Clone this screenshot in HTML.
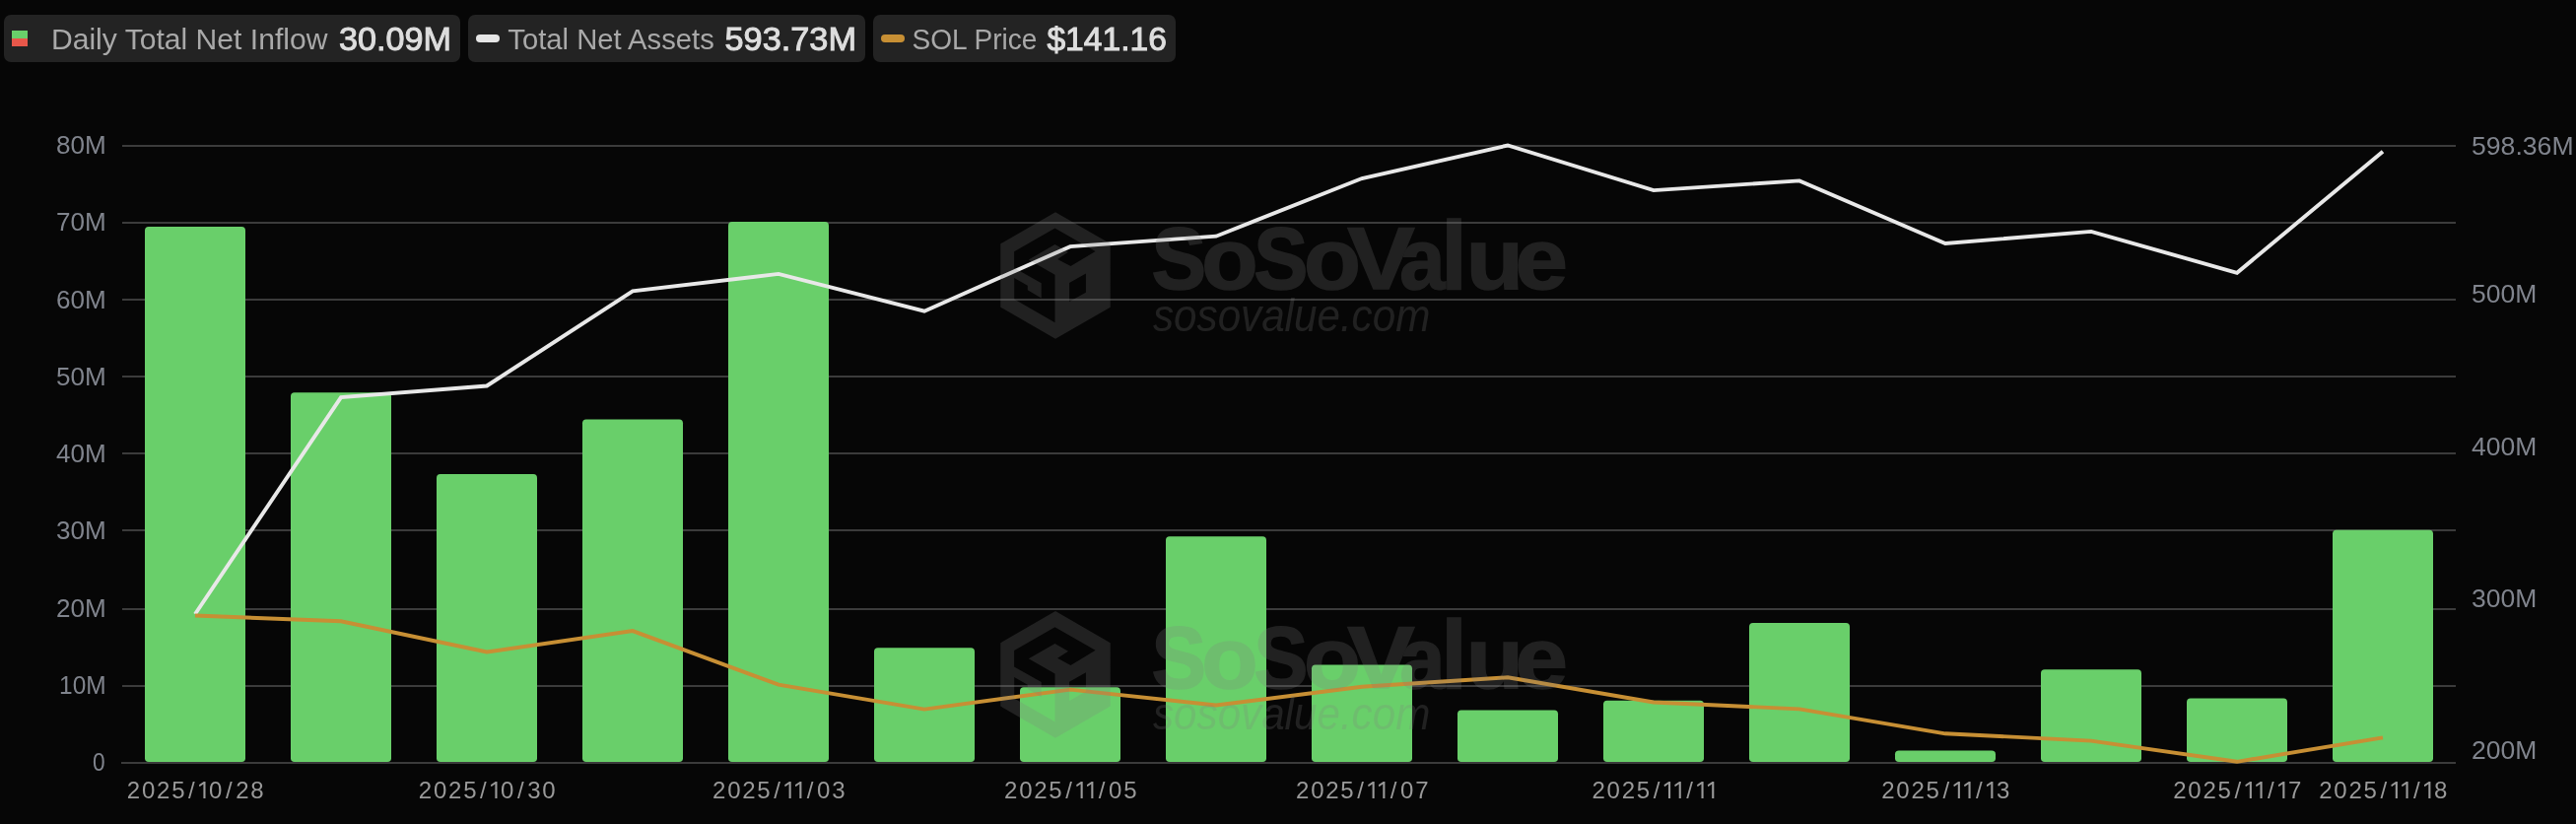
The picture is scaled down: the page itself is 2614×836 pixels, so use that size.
<!DOCTYPE html>
<html><head><meta charset="utf-8"><title>SOL ETF Daily Total Net Inflow</title>
<style>
html,body{margin:0;padding:0;background:#060606;width:2614px;height:836px;overflow:hidden}
svg{display:block;will-change:transform}
text{font-family:"Liberation Sans", sans-serif}
</style></head><body>
<svg width="2614" height="836" viewBox="0 0 2614 836">
<rect x="0" y="0" width="2614" height="836" fill="#060606"/>
<g>
<rect x="4" y="15" width="463" height="48" rx="7" fill="#232323"/>
<rect x="12" y="31" width="16" height="8" fill="#69cf6a"/>
<rect x="12" y="39" width="16" height="8" fill="#e8574a"/>
<text x="51.9" y="50.3" font-size="28.8" fill="#a9a9a9" textLength="280.6" lengthAdjust="spacingAndGlyphs">Daily Total Net Inflow</text>
<text x="344" y="50.9" font-size="34" fill="#dedede" stroke="#dedede" stroke-width="1.0" textLength="114" lengthAdjust="spacingAndGlyphs">30.09M</text>
<rect x="475" y="15" width="403" height="48" rx="7" fill="#232323"/>
<rect x="483" y="35" width="24" height="8" rx="4" fill="#e6e6e6"/>
<text x="515.3" y="50.3" font-size="28.8" fill="#a9a9a9" textLength="209.5" lengthAdjust="spacingAndGlyphs">Total Net Assets</text>
<text x="735.5" y="50.9" font-size="34" fill="#dedede" stroke="#dedede" stroke-width="1.0" textLength="133.5" lengthAdjust="spacingAndGlyphs">593.73M</text>
<rect x="886" y="15" width="307" height="48" rx="7" fill="#232323"/>
<rect x="894" y="35" width="24" height="8" rx="4" fill="#c78f34"/>
<text x="925.6" y="50.3" font-size="28.8" fill="#a9a9a9" textLength="126.8" lengthAdjust="spacingAndGlyphs">SOL Price</text>
<text x="1062.4" y="50.9" font-size="34" fill="#dedede" stroke="#dedede" stroke-width="1.0" textLength="121.5" lengthAdjust="spacingAndGlyphs">$141.16</text>
</g>
<g>
<rect x="124" y="147.00" width="2368" height="2" fill="#3b3b3b"/>
<rect x="124" y="225.00" width="2368" height="2" fill="#3b3b3b"/>
<rect x="124" y="303.00" width="2368" height="2" fill="#3b3b3b"/>
<rect x="124" y="381.00" width="2368" height="2" fill="#3b3b3b"/>
<rect x="124" y="459.00" width="2368" height="2" fill="#3b3b3b"/>
<rect x="124" y="537.00" width="2368" height="2" fill="#3b3b3b"/>
<rect x="124" y="617.00" width="2368" height="2" fill="#3b3b3b"/>
<rect x="124" y="695.00" width="2368" height="2" fill="#3b3b3b"/>
<rect x="123" y="773.00" width="2369" height="2" fill="#3b3b3b"/>
</g>
<g font-size="25" fill="#80848d" text-anchor="end">
<text x="107.6" y="156.10" textLength="50.7" lengthAdjust="spacingAndGlyphs">80M</text>
<text x="107.6" y="234.35" textLength="50.7" lengthAdjust="spacingAndGlyphs">70M</text>
<text x="107.6" y="312.60" textLength="50.7" lengthAdjust="spacingAndGlyphs">60M</text>
<text x="107.6" y="390.85" textLength="50.7" lengthAdjust="spacingAndGlyphs">50M</text>
<text x="107.6" y="469.10" textLength="50.7" lengthAdjust="spacingAndGlyphs">40M</text>
<text x="107.6" y="547.35" textLength="50.7" lengthAdjust="spacingAndGlyphs">30M</text>
<text x="107.6" y="625.60" textLength="50.7" lengthAdjust="spacingAndGlyphs">20M</text>
<text x="107.6" y="703.85" textLength="47.5" lengthAdjust="spacingAndGlyphs">10M</text>
<text x="106.6" y="782.10" textLength="12.6" lengthAdjust="spacingAndGlyphs">0</text>
</g>
<g font-size="25" fill="#80848d">
<text x="2508" y="156.60" textLength="103.6" lengthAdjust="spacingAndGlyphs">598.36M</text>
<text x="2508" y="307.05" textLength="66.3" lengthAdjust="spacingAndGlyphs">500M</text>
<text x="2508" y="462.30" textLength="66.3" lengthAdjust="spacingAndGlyphs">400M</text>
<text x="2508" y="616.40" textLength="66.3" lengthAdjust="spacingAndGlyphs">300M</text>
<text x="2508" y="770.00" textLength="66.3" lengthAdjust="spacingAndGlyphs">200M</text>
</g>
<g fill="#69cf6a">
<rect x="147" y="229.9" width="102" height="543.1" rx="3.8"/>
<rect x="295" y="398.3" width="102" height="374.7" rx="3.8"/>
<rect x="443" y="481.1" width="102" height="291.9" rx="3.8"/>
<rect x="591" y="425.4" width="102" height="347.6" rx="3.8"/>
<rect x="739" y="225.1" width="102" height="547.9" rx="3.8"/>
<rect x="887" y="657.2" width="102" height="115.8" rx="3.8"/>
<rect x="1035" y="697.3" width="102" height="75.7" rx="3.8"/>
<rect x="1183" y="544.3" width="102" height="228.7" rx="3.8"/>
<rect x="1331" y="674.4" width="102" height="98.6" rx="3.8"/>
<rect x="1479" y="720.5" width="102" height="52.5" rx="3.8"/>
<rect x="1627" y="710.8" width="102" height="62.2" rx="3.8"/>
<rect x="1775" y="632.0" width="102" height="141.0" rx="3.8"/>
<rect x="1923" y="761.4" width="102" height="11.6" rx="3.8"/>
<rect x="2071" y="679.2" width="102" height="93.8" rx="3.8"/>
<rect x="2219" y="708.6" width="102" height="64.4" rx="3.8"/>
<rect x="2367" y="537.7" width="102" height="235.3" rx="3.8"/>
</g>
<polyline points="198,623.0 346,403.1 494,391.5 642,295.3 790,277.9 938,315.7 1086,250.1 1234,239.7 1382,181.0 1530,147.5 1678,193.1 1826,183.4 1974,247.0 2122,234.9 2270,276.8 2418,153.8" fill="none" stroke="#e8e8e8" stroke-width="3.9" stroke-linejoin="miter"/>
<polyline points="198,624.5 346,630.3 494,661.5 642,640.1 790,694.7 938,719.6 1086,699.6 1234,715.5 1382,696.8 1530,687.3 1678,712.5 1826,719.4 1974,744.3 2122,751.6 2270,772.8 2418,748.3" fill="none" stroke="#c78f34" stroke-width="3.9" stroke-linejoin="miter"/>
<g font-size="24" fill="#999999">
<text x="135.55 150.65 165.75 180.85 194.45 218.75 232.35 245.95 261.05" y="810" text-anchor="middle">2025/0/28</text>
<text x="431.55 446.65 461.75 476.85 490.45 514.75 528.35 541.95 557.05" y="810" text-anchor="middle">2025/0/30</text>
<text x="729.75 744.85 759.95 775.05 788.65 822.15 835.75 850.85" y="810" text-anchor="middle">2025//03</text>
<text x="1025.75 1040.85 1055.95 1071.05 1084.65 1118.15 1131.75 1146.85" y="810" text-anchor="middle">2025//05</text>
<text x="1321.75 1336.85 1351.95 1367.05 1380.65 1414.15 1427.75 1442.85" y="810" text-anchor="middle">2025//07</text>
<text x="1622.15 1637.25 1652.35 1667.45 1681.05 1714.55" y="810" text-anchor="middle">2025//</text>
<text x="1915.95 1931.05 1946.15 1961.25 1974.85 2008.35 2032.65" y="810" text-anchor="middle">2025//3</text>
<text x="2211.95 2227.05 2242.15 2257.25 2270.85 2304.35 2328.65" y="810" text-anchor="middle">2025//7</text>
<text x="2359.95 2375.05 2390.15 2405.25 2418.85 2452.35 2476.65" y="810" text-anchor="middle">2025//8</text>
<path d="M208.50,810 L208.50,793 L206.75,793 L201.95,796.3 L202.45,798.2 L206.40,795.6 L206.40,810 Z"/>
<path d="M504.50,810 L504.50,793 L502.75,793 L497.95,796.3 L498.45,798.2 L502.40,795.6 L502.40,810 Z"/>
<path d="M802.70,810 L802.70,793 L800.95,793 L796.15,796.3 L796.65,798.2 L800.60,795.6 L800.60,810 Z"/>
<path d="M813.40,810 L813.40,793 L811.65,793 L806.85,796.3 L807.35,798.2 L811.30,795.6 L811.30,810 Z"/>
<path d="M1098.70,810 L1098.70,793 L1096.95,793 L1092.15,796.3 L1092.65,798.2 L1096.60,795.6 L1096.60,810 Z"/>
<path d="M1109.40,810 L1109.40,793 L1107.65,793 L1102.85,796.3 L1103.35,798.2 L1107.30,795.6 L1107.30,810 Z"/>
<path d="M1394.70,810 L1394.70,793 L1392.95,793 L1388.15,796.3 L1388.65,798.2 L1392.60,795.6 L1392.60,810 Z"/>
<path d="M1405.40,810 L1405.40,793 L1403.65,793 L1398.85,796.3 L1399.35,798.2 L1403.30,795.6 L1403.30,810 Z"/>
<path d="M1695.10,810 L1695.10,793 L1693.35,793 L1688.55,796.3 L1689.05,798.2 L1693.00,795.6 L1693.00,810 Z"/>
<path d="M1705.80,810 L1705.80,793 L1704.05,793 L1699.25,796.3 L1699.75,798.2 L1703.70,795.6 L1703.70,810 Z"/>
<path d="M1728.60,810 L1728.60,793 L1726.85,793 L1722.05,796.3 L1722.55,798.2 L1726.50,795.6 L1726.50,810 Z"/>
<path d="M1739.30,810 L1739.30,793 L1737.55,793 L1732.75,796.3 L1733.25,798.2 L1737.20,795.6 L1737.20,810 Z"/>
<path d="M1988.90,810 L1988.90,793 L1987.15,793 L1982.35,796.3 L1982.85,798.2 L1986.80,795.6 L1986.80,810 Z"/>
<path d="M1999.60,810 L1999.60,793 L1997.85,793 L1993.05,796.3 L1993.55,798.2 L1997.50,795.6 L1997.50,810 Z"/>
<path d="M2022.40,810 L2022.40,793 L2020.65,793 L2015.85,796.3 L2016.35,798.2 L2020.30,795.6 L2020.30,810 Z"/>
<path d="M2284.90,810 L2284.90,793 L2283.15,793 L2278.35,796.3 L2278.85,798.2 L2282.80,795.6 L2282.80,810 Z"/>
<path d="M2295.60,810 L2295.60,793 L2293.85,793 L2289.05,796.3 L2289.55,798.2 L2293.50,795.6 L2293.50,810 Z"/>
<path d="M2318.40,810 L2318.40,793 L2316.65,793 L2311.85,796.3 L2312.35,798.2 L2316.30,795.6 L2316.30,810 Z"/>
<path d="M2432.90,810 L2432.90,793 L2431.15,793 L2426.35,796.3 L2426.85,798.2 L2430.80,795.6 L2430.80,810 Z"/>
<path d="M2443.60,810 L2443.60,793 L2441.85,793 L2437.05,796.3 L2437.55,798.2 L2441.50,795.6 L2441.50,810 Z"/>
<path d="M2466.40,810 L2466.40,793 L2464.65,793 L2459.85,796.3 L2460.35,798.2 L2464.30,795.6 L2464.30,810 Z"/>
</g>
<g fill="#808080" opacity="0.22">
<path transform="translate(1071,279.5)" fill-rule="evenodd" d="M0.00,-64.30 L55.70,-32.15 L55.70,32.15 L0.00,64.30 L-55.70,32.15 L-55.70,-32.15 Z M-0.50,-48.10 L40.60,-24.60 L15.50,-9.50 L2.10,-16.60 L13.00,-23.70 L-0.50,-31.40 L-27.20,-16.10 L-0.50,-0.80 L-0.50,47.80 L-41.80,24.00 L-41.80,2.50 L-28.20,10.30 L-28.20,14.70 L-14.30,22.90 L-14.30,7.70 L-41.90,-7.80 L-41.90,-24.30 Z M14.10,7.40 L30.90,-2.10 L30.90,17.20 L14.10,26.60 Z"/>
<text transform="translate(1168.60,292.90) scale(0.8329,0.8894)" font-size="100" font-weight="bold" stroke="#808080" stroke-width="1.86">S</text>
<text transform="translate(1219.33,292.90) scale(0.9386,0.8772)" font-size="100" font-weight="bold" stroke="#808080" stroke-width="1.76">o</text>
<text transform="translate(1272.22,292.90) scale(0.8262,0.8894)" font-size="100" font-weight="bold" stroke="#808080" stroke-width="1.87">S</text>
<text transform="translate(1323.00,292.90) scale(0.9480,0.8772)" font-size="100" font-weight="bold" stroke="#808080" stroke-width="1.75">o</text>
<text transform="translate(1367.30,292.90) scale(1.0255,0.8983)" font-size="100" font-weight="bold" stroke="#808080" stroke-width="1.66">V</text>
<text transform="translate(1420.27,292.90) scale(0.8308,0.8772)" font-size="100" font-weight="bold" stroke="#808080" stroke-width="1.87">a</text>
<text transform="translate(1462.23,292.90) scale(0.9548,0.9785)" font-size="100" font-weight="bold" stroke="#808080" stroke-width="1.66">l</text>
<text transform="translate(1487.79,292.90) scale(0.9526,0.8726)" font-size="100" font-weight="bold" stroke="#808080" stroke-width="1.75">u</text>
<text transform="translate(1537.55,292.90) scale(0.9608,0.8772)" font-size="100" font-weight="bold" stroke="#808080" stroke-width="1.74">e</text>
<text x="1170" y="335.5" font-size="46" font-style="italic" textLength="281.3" lengthAdjust="spacingAndGlyphs">sosovalue.com</text>
</g>
<g fill="#808080" opacity="0.22">
<path transform="translate(1071,684.4)" fill-rule="evenodd" d="M0.00,-64.30 L55.70,-32.15 L55.70,32.15 L0.00,64.30 L-55.70,32.15 L-55.70,-32.15 Z M-0.50,-48.10 L40.60,-24.60 L15.50,-9.50 L2.10,-16.60 L13.00,-23.70 L-0.50,-31.40 L-27.20,-16.10 L-0.50,-0.80 L-0.50,47.80 L-41.80,24.00 L-41.80,2.50 L-28.20,10.30 L-28.20,14.70 L-14.30,22.90 L-14.30,7.70 L-41.90,-7.80 L-41.90,-24.30 Z M14.10,7.40 L30.90,-2.10 L30.90,17.20 L14.10,26.60 Z"/>
<text transform="translate(1168.60,697.80) scale(0.8329,0.8894)" font-size="100" font-weight="bold" stroke="#808080" stroke-width="1.86">S</text>
<text transform="translate(1219.33,697.80) scale(0.9386,0.8772)" font-size="100" font-weight="bold" stroke="#808080" stroke-width="1.76">o</text>
<text transform="translate(1272.22,697.80) scale(0.8262,0.8894)" font-size="100" font-weight="bold" stroke="#808080" stroke-width="1.87">S</text>
<text transform="translate(1323.00,697.80) scale(0.9480,0.8772)" font-size="100" font-weight="bold" stroke="#808080" stroke-width="1.75">o</text>
<text transform="translate(1367.30,697.80) scale(1.0255,0.8983)" font-size="100" font-weight="bold" stroke="#808080" stroke-width="1.66">V</text>
<text transform="translate(1420.27,697.80) scale(0.8308,0.8772)" font-size="100" font-weight="bold" stroke="#808080" stroke-width="1.87">a</text>
<text transform="translate(1462.23,697.80) scale(0.9548,0.9785)" font-size="100" font-weight="bold" stroke="#808080" stroke-width="1.66">l</text>
<text transform="translate(1487.79,697.80) scale(0.9526,0.8726)" font-size="100" font-weight="bold" stroke="#808080" stroke-width="1.75">u</text>
<text transform="translate(1537.55,697.80) scale(0.9608,0.8772)" font-size="100" font-weight="bold" stroke="#808080" stroke-width="1.74">e</text>
<text x="1170" y="740.4" font-size="46" font-style="italic" textLength="281.3" lengthAdjust="spacingAndGlyphs">sosovalue.com</text>
</g>
</svg>
</body></html>
